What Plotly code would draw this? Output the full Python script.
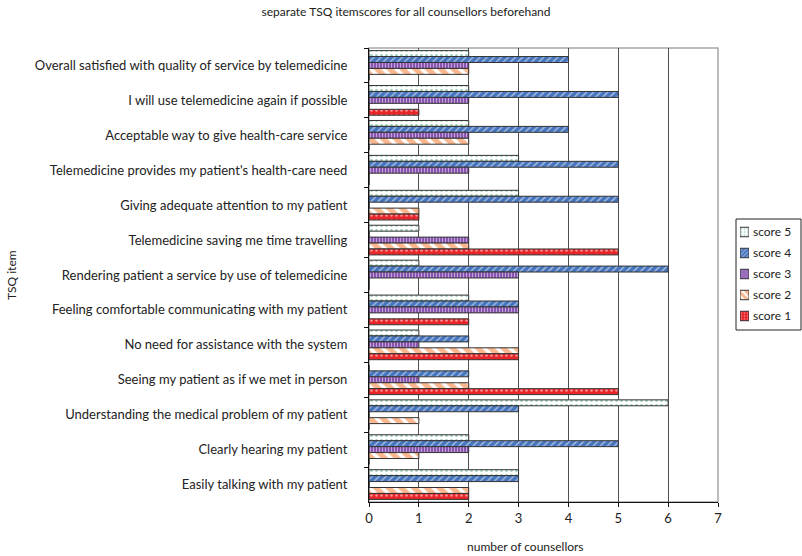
import plotly.graph_objects as go

# TSQ items, listed top to bottom as they appear on the chart
items = [
    "Overall satisfied with quality of service by telemedicine",
    "I will use telemedicine again if possible",
    "Acceptable way to give health-care service",
    "Telemedicine provides my patient's health-care need",
    "Giving adequate attention to my patient",
    "Telemedicine saving me time travelling",
    "Rendering patient a service by use of telemedicine",
    "Feeling comfortable communicating with my patient",
    "No need for assistance with the system",
    "Seeing my patient as if we met in person",
    "Understanding the medical problem of my patient",
    "Clearly hearing my patient",
    "Easily talking with my patient",
]

# number of counsellors giving each score, per item (same order as items)
score5 = [2, 2, 2, 3, 3, 1, 1, 2, 1, 0, 6, 2, 3]
score4 = [4, 5, 4, 5, 5, 0, 6, 3, 2, 2, 3, 5, 3]
score3 = [2, 2, 2, 2, 0, 2, 3, 3, 1, 1, 0, 2, 0]
score2 = [2, 0, 2, 0, 1, 2, 0, 0, 3, 2, 1, 1, 2]
score1 = [0, 1, 0, 0, 1, 5, 0, 2, 3, 5, 0, 0, 2]

series_names = ["score 5", "score 4", "score 3", "score 2", "score 1"]
series_values = [score5, score4, score3, score2, score1]

# fill pattern for each score
patterns = [
    dict(shape=".", fgcolor="#3FA06E", bgcolor="#FFFFFF", size=5, solidity=0.25),
    dict(shape="/", fgcolor="#FFFFFF", bgcolor="#4575BE", size=5, solidity=0.3),
    dict(shape="|", fgcolor="#FFFFFF", bgcolor="#8A55B0", size=3, solidity=0.3),
    dict(shape="\\", fgcolor="#F26F1E", bgcolor="#FFFFFF", size=9, solidity=0.6),
    dict(shape=".", fgcolor="#FFFFFF", bgcolor="#E8262A", size=5, solidity=0.2),
]
# smaller pattern cells for the key swatches
swatch_sizes = [3, 3, 2, 5, 3]

FONT = "Lato, 'Noto Sans', sans-serif"
TEXT = "#222222"
EDGE = "#333333"

W, H = 802, 556
L, T, B = 369, 48, 54           # margins around the bar area
PLOT_R = 718                    # right edge of the bar area
PAPER_W = W - L                 # paper spans from the left margin to the page edge
PAPER_H = H - T - B


def px_x(px):
    return (px - L) / PAPER_W


def px_y(py):
    return (H - B - py) / PAPER_H


fig = go.Figure()
for name, vals, pat in zip(series_names, series_values, patterns):
    fig.add_trace(go.Bar(
        name=name,
        y=items,
        x=vals,
        orientation="h",
        showlegend=False,
        marker=dict(color=pat["bgcolor"], pattern=pat,
                    line=dict(color=EDGE, width=1)),
    ))

# key: one pattern swatch per score on a small side axis, labelled by its ticks
for name, pat, sz in zip(series_names, patterns, swatch_sizes):
    fig.add_trace(go.Bar(
        y=[name],
        x=[1],
        orientation="h",
        width=0.45,
        offset=-0.225,
        xaxis="x2",
        yaxis="y2",
        showlegend=False,
        hoverinfo="skip",
        marker=dict(
            color=pat["bgcolor"],
            pattern=dict(pat, size=sz),
            line=dict(color=EDGE, width=1),
        ),
    ))

# light grey frame around the bar area
fig.add_shape(type="rect", xref="x domain", yref="y domain", x0=0, x1=1, y0=0, y1=1,
              line=dict(color="#A6A6A6", width=1.5), layer="below")
# key border
fig.add_shape(type="rect", xref="paper", yref="paper",
              x0=px_x(736), x1=px_x(801), y0=px_y(330), y1=px_y(219),
              line=dict(color=TEXT, width=1))

# axis titles
fig.add_annotation(text="number of counsellors", xref="paper", yref="paper",
                   x=px_x(465), y=px_y(546), xanchor="left", yanchor="middle",
                   showarrow=False, font=dict(family=FONT, size=12, color=TEXT))
fig.add_annotation(text="TSQ item", xref="paper", yref="paper",
                   x=px_x(11), y=px_y(275), textangle=-90,
                   xanchor="center", yanchor="middle", showarrow=False,
                   font=dict(family=FONT, size=12, color=TEXT))

fig.update_layout(
    width=W,
    height=H,
    margin=dict(l=L, r=0, t=T, b=B, autoexpand=False),
    barmode="group",
    bargap=0.15,
    bargroupgap=0,
    showlegend=False,
    paper_bgcolor="white",
    plot_bgcolor="white",
    font=dict(family=FONT, size=13, color=TEXT),
    title=dict(
        text="separate TSQ itemscores for all counsellors beforehand",
        x=406 / W, xanchor="center", xref="container",
        y=1 - 12 / H, yanchor="middle", yref="container",
        font=dict(family=FONT, size=12, color=TEXT),
    ),
    xaxis=dict(
        domain=[0, px_x(PLOT_R)],
        range=[0, 7],
        dtick=1,
        showgrid=True,
        gridcolor="#505050",
        gridwidth=1,
        zeroline=False,
        showline=True,
        linecolor="#111111",
        linewidth=1,
        ticks="outside",
        ticklen=4,
        tickcolor="#111111",
        tickfont=dict(size=13),
    ),
    yaxis=dict(
        categoryorder="array",
        categoryarray=items,
        autorange="reversed",
        showline=True,
        linecolor="#111111",
        linewidth=1,
        ticks="outside",
        tickson="boundaries",
        ticklen=4,
        tickcolor="#111111",
        showgrid=False,
        tickfont=dict(size=13),
        ticklabelstandoff=18,
    ),
    xaxis2=dict(
        domain=[px_x(740), px_x(749)],
        anchor="y2",
        range=[0, 1],
        visible=False,
        fixedrange=True,
    ),
    yaxis2=dict(
        domain=[px_y(326.5), px_y(221.5)],
        anchor="x2",
        side="right",
        categoryorder="array",
        categoryarray=series_names,
        autorange="reversed",
        showline=False,
        showgrid=False,
        zeroline=False,
        ticks="",
        ticklabelstandoff=3,
        tickfont=dict(size=12, color=TEXT),
        fixedrange=True,
    ),
)

fig.write_html("out.html")
